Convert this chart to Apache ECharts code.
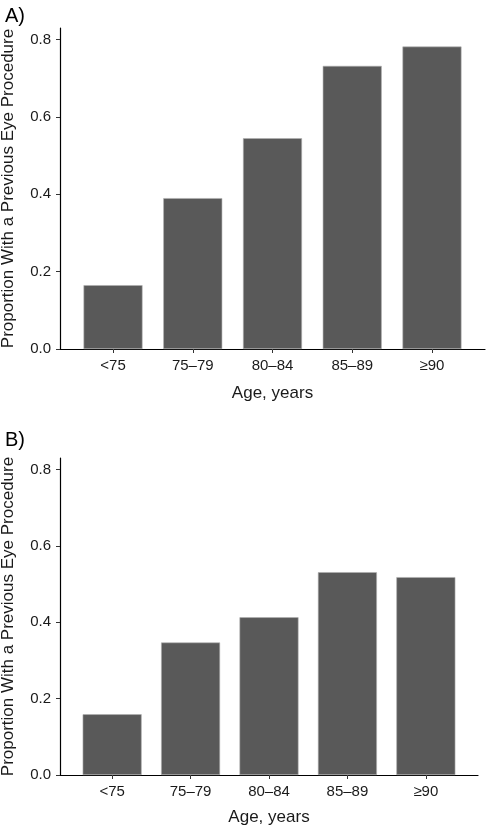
<!DOCTYPE html>
<html>
<head>
<meta charset="utf-8">
<script src="https://cdn.jsdelivr.net/npm/echarts@6/dist/echarts.min.js"></script>
<style>
html,body{margin:0;padding:0;background:#fff;}
#chart{width:486px;height:827px;}
</style>
</head>
<body>
<div id="chart"></div>
<script>
var categories = ['<75', '75\u201379', '80\u201384', '85\u201389', '\u226590'];
var valuesA = [0.165, 0.390, 0.545, 0.732, 0.782];
var valuesB = [0.159, 0.347, 0.413, 0.531, 0.518];
var yTicks = [0, 0.2, 0.4, 0.6, 0.8];
var panelLabels = ['A)', 'B)'];
var xTitle = 'Age, years';
var yTitle = 'Proportion With a Previous Eye Procedure';

var catIdx = categories.map(function (c, i) { return i; });
var font = 'Liberation Sans, Arial, Helvetica, sans-serif';
var txt = '#1a1a1a';

function xAxis(gi, gap) {
  return {
    type: 'value', gridIndex: gi, min: -0.665, max: 4.665,
    axisLine: { show: true, onZero: false, lineStyle: { color: '#000', width: 1.2 } },
    axisTick: { show: true, length: 4, customValues: catIdx, lineStyle: { color: '#333', width: 1 } },
    axisLabel: { customValues: catIdx, color: txt, fontSize: 15, fontFamily: font, margin: 9,
      formatter: function (v) { return categories[Math.round(v)]; } },
    splitLine: { show: false },
    name: xTitle, nameLocation: 'middle', nameGap: gap,
    nameTextStyle: { color: txt, fontSize: 17, fontFamily: font }
  };
}
function yAxis(gi) {
  return {
    type: 'value', gridIndex: gi, min: 0, max: 0.83,
    axisLine: { show: true, onZero: false, lineStyle: { color: '#000', width: 1.2 } },
    axisTick: { show: true, length: 4, customValues: yTicks, lineStyle: { color: '#333', width: 1 } },
    axisLabel: { customValues: yTicks, color: txt, fontSize: 15, fontFamily: font, margin: 9,
      formatter: function (v) { return v.toFixed(1); } },
    splitLine: { show: false },
    name: yTitle, nameLocation: 'middle', nameGap: 43, nameRotate: 90,
    nameTextStyle: { color: txt, fontSize: 17, fontFamily: font }
  };
}
function series(gi, vals) {
  return {
    type: 'bar', xAxisIndex: gi, yAxisIndex: gi, barWidth: 59,
    itemStyle: { color: '#595959', borderColor: '#b0b0b0', borderWidth: 0.6 },
    data: vals.map(function (v, i) { return [i, v]; }),
    silent: true
  };
}

var chart = echarts.init(document.getElementById('chart'), null, { renderer: 'canvas' });
chart.setOption({
  animation: false,
  backgroundColor: '#fff',
  grid: [
    { left: 60, top: 28, width: 425, height: 321, outerBoundsMode: 'none', containLabel: false },
    { left: 60, top: 458, width: 418, height: 317, outerBoundsMode: 'none', containLabel: false }
  ],
  xAxis: [xAxis(0, 36), xAxis(1, 34)],
  yAxis: [yAxis(0), yAxis(1)],
  title: [
    { text: panelLabels[0], left: 0, top: 1, textStyle: { fontSize: 20, fontWeight: 'normal', color: '#000', fontFamily: font } },
    { text: panelLabels[1], left: 0, top: 425, textStyle: { fontSize: 20, fontWeight: 'normal', color: '#000', fontFamily: font } }
  ],
  series: [series(0, valuesA), series(1, valuesB)]
});
</script>
</body>
</html>
